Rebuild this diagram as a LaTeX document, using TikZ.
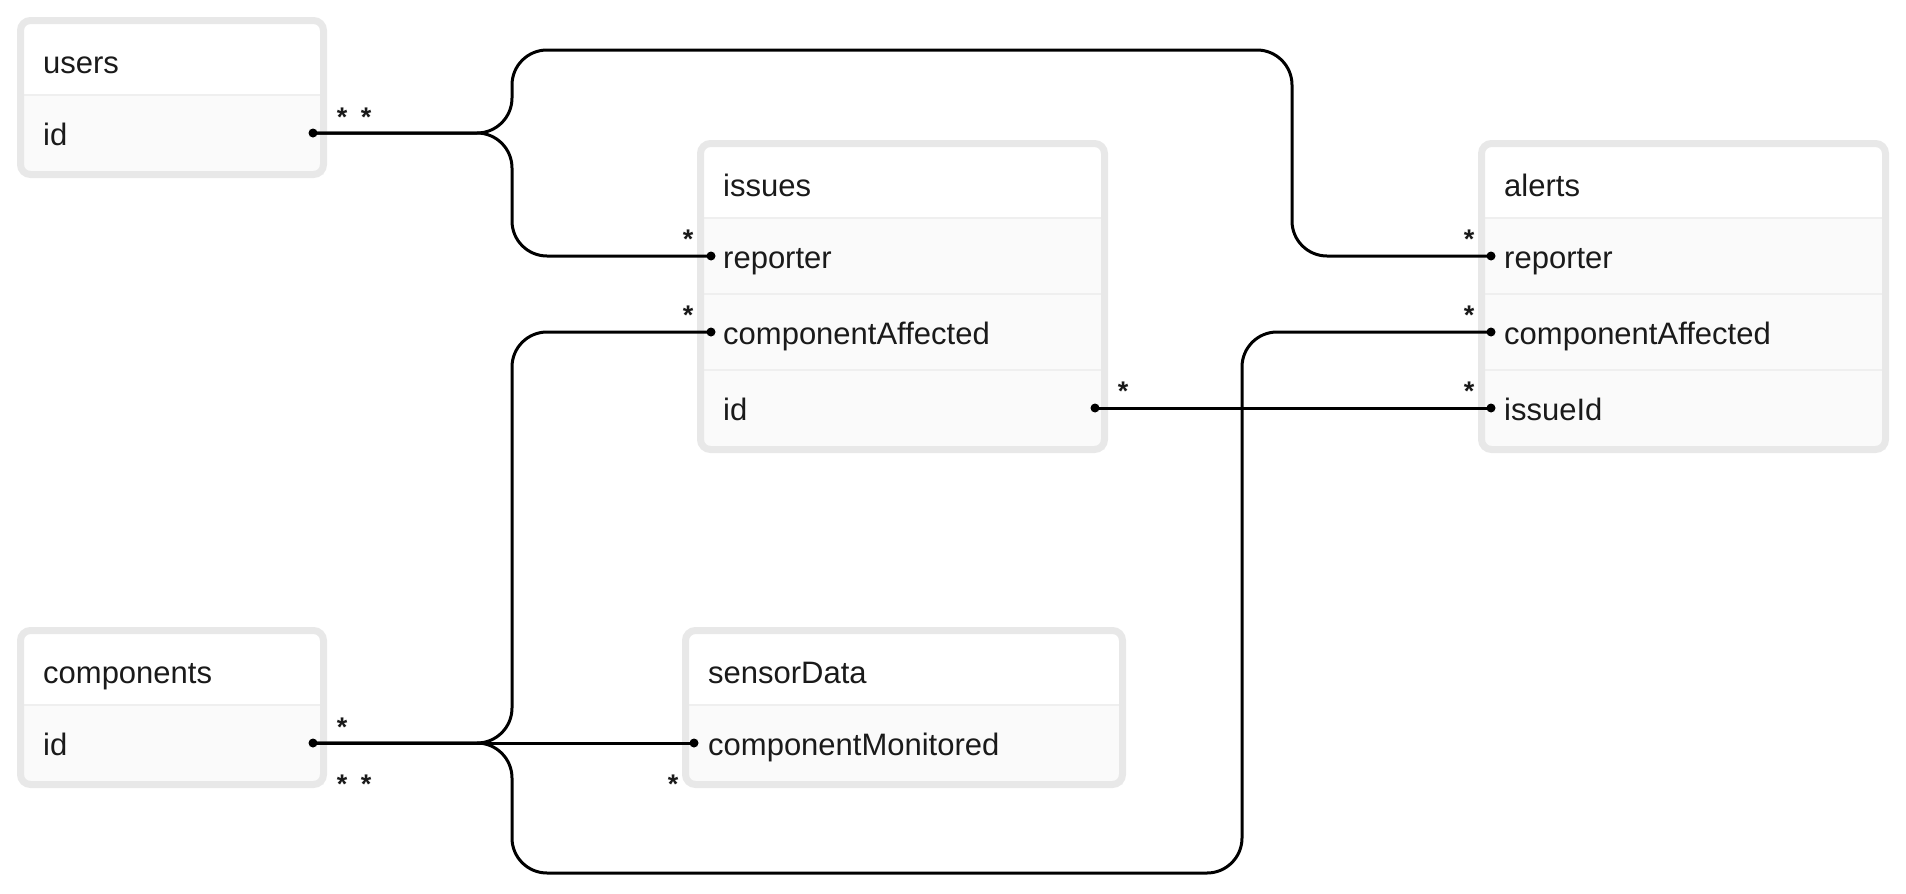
\documentclass[tikz,border=0pt]{standalone}
\usepackage{fontspec}
\setmainfont{Liberation Sans}
\definecolor{framegray}{HTML}{E8E8E8}
\definecolor{rowfill}{HTML}{FAFAFA}
\definecolor{divgray}{HTML}{EFEFEF}
\definecolor{txt}{HTML}{1A1A1A}
\tikzset{
  lbl/.style={anchor=base west, inner sep=0pt, text=txt, font=\fontsize{31}{37}\selectfont},
  mult/.style={anchor=base, inner sep=0pt, text=txt, font=\fontsize{27}{32}\selectfont\bfseries},
  conn/.style={draw=black, line width=3pt, rounded corners=35pt},
  plain/.style={draw=black, line width=3pt},
  divider/.style={draw=divgray, line width=2pt},
  frame/.style={draw=framegray, line width=7pt, rounded corners=10pt, inner sep=0pt, outer sep=0pt, anchor=north west},
  portdot/.style={fill=black},
}
% #1 name, #2 left, #3 right, #4 top, #5 number of rows
\newcommand\entitybox[5]{%
  \pgfmathsetmacro\eB{#4+78+76*#5+7}%
  \pgfmathsetmacro\eW{#3-#2-7}%
  \pgfmathsetmacro\eH{\eB-#4-7}%
  \fill[rowfill] (#2+3.5,#4+3.5) rectangle (#3-3.5,\eB-3.5);
  \fill[white] (#2+3.5,#4+3.5) rectangle (#3-3.5,#4+78);
  \foreach \k in {1,...,#5}{
    \draw[divider] (#2+7,#4+78+76*\k-76) -- (#3-7,#4+78+76*\k-76);
  }
  \node[frame, minimum width=\eW pt, minimum height=\eH pt] (#1) at (#2+3.5,#4+3.5) {};
}
\begin{document}
\begin{tikzpicture}[x=1pt,y=-1pt]
\useasboundingbox[fill=white] (0,0) rectangle (1906,894);

% ---------- tables ----------
\entitybox{users}{17}{327}{17}{1}
\entitybox{issues}{697}{1108}{140}{3}
\entitybox{alerts}{1478}{1889}{140}{3}
\entitybox{components}{17}{327}{627}{1}
\entitybox{sensorData}{682}{1126}{627}{1}

\node[lbl] (users-title) at (43,73) {users};
\node[lbl] (users-id) at (43,145) {id};

\node[lbl] (issues-title) at (723,196) {issues};
\node[lbl] (issues-reporter) at (723,268) {reporter};
\node[lbl] (issues-comp) at (723,344) {componentAffected};
\node[lbl] (issues-id) at (723,420) {id};

\node[lbl] (alerts-title) at (1504,196) {alerts};
\node[lbl] (alerts-reporter) at (1504,268) {reporter};
\node[lbl] (alerts-comp) at (1504,344) {componentAffected};
\node[lbl] (alerts-issueid) at (1504,420) {issueId};

\node[lbl] (components-title) at (43,683) {components};
\node[lbl] (components-id) at (43,755) {id};

\node[lbl] (sensor-title) at (708,683) {sensorData};
\node[lbl] (sensor-comp) at (708,755) {componentMonitored};

% ---------- ports ----------
\coordinate (pU) at (313,133);
\coordinate (pIrep) at (711,256);
\coordinate (pIcomp) at (711,332);
\coordinate (pIid) at (1095,408);
\coordinate (pArep) at (1491,256);
\coordinate (pAcomp) at (1491,332);
\coordinate (pAiss) at (1491,408);
\coordinate (pC) at (313,743);
\coordinate (pS) at (694,743);

% routing guides
\coordinate (xbus) at (512,0);
\coordinate (xright) at (1292,0);
\coordinate (xmid) at (1242,0);
\coordinate (ytop) at (0,50);
\coordinate (ybot) at (0,873);

% ---------- connectors ----------
\draw[conn] (pU) -- (pU -| xbus) -- (xbus |- ytop) -- (xright |- ytop) -- (xright |- pArep) -- (pArep);
\draw[conn] (pU) -- (pU -| xbus) -- (xbus |- pIrep) -- (pIrep);
\draw[conn] (pC) -- (pC -| xbus) -- (xbus |- pIcomp) -- (pIcomp);
\draw[plain] (pC) -- (pS);
\draw[conn] (pC) -- (pC -| xbus) -- (xbus |- ybot) -- (xmid |- ybot) -- (xmid |- pAcomp) -- (pAcomp);
\draw[plain] (pIid) -- (pAiss);

\foreach \p in {pU,pIrep,pIcomp,pIid,pArep,pAcomp,pAiss,pC,pS}{
  \fill[portdot] (\p) circle (4.5pt);
}

% ---------- multiplicities ----------
\node[mult] (m1) at (342,126) {*};
\node[mult] (m2) at (366,126) {*};
\node[mult] (m3) at (688,248) {*};
\node[mult] (m4) at (688,324) {*};
\node[mult] (m5) at (1123,400) {*};
\node[mult] (m6) at (1469,248) {*};
\node[mult] (m7) at (1469,324) {*};
\node[mult] (m8) at (1469,400) {*};
\node[mult] (m9) at (342,736) {*};
\node[mult] (m10) at (342,793) {*};
\node[mult] (m11) at (366,793) {*};
\node[mult] (m12) at (673,793) {*};
\end{tikzpicture}
\end{document}
